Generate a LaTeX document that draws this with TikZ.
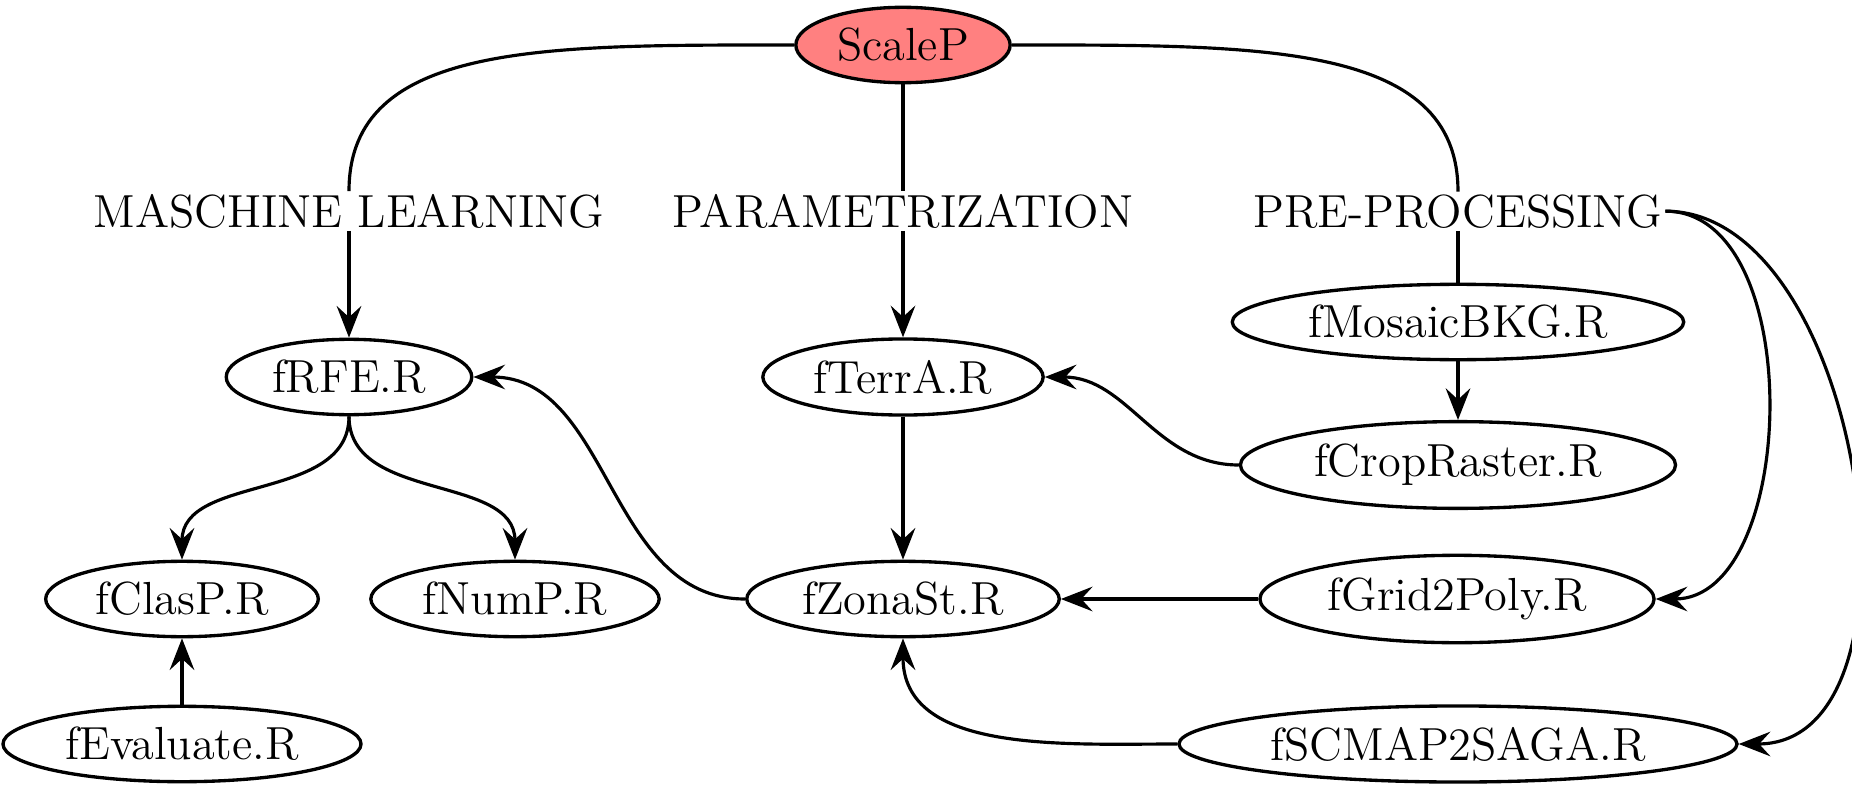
\documentclass[tikz,border=0pt]{standalone}
\usetikzlibrary{arrows.meta,shapes.geometric}
\begin{document}
\begin{tikzpicture}[
  fn/.style={ellipse, draw, line width=0.95pt, inner sep=2.8pt, font=\fontsize{13.2}{15}\selectfont},
  lbl/.style={inner sep=0.6pt, font=\fontsize{13.2}{15}\selectfont},
  conn/.style={line width=0.9pt},
  arr/.style={conn, -{Stealth[length=9pt,width=7pt,inset=3.2pt]}}
]
\useasboundingbox (0,0) rectangle (18.52,-7.91);
% nodes
\node[fn, fill=red!50] (scalep) at (9.03,-0.45) {ScaleP};
\node[lbl, anchor=base] (ml) at (3.49,-2.27) {MASCHINE LEARNING};
\node[lbl, anchor=base] (par) at (9.03,-2.27) {PARAMETRIZATION};
\node[lbl, anchor=base] (pre) at (14.58,-2.27) {PRE-PROCESSING};
\node[fn] (rfe) at (3.49,-3.77) {fRFE.R};
\node[fn] (terra) at (9.03,-3.77) {fTerrA.R};
\node[fn] (mosaic) at (14.58,-3.22) {fMosaicBKG.R};
\node[fn] (crop) at (14.58,-4.65) {fCropRaster.R};
\node[fn] (clasp) at (1.82,-5.99) {fClasP.R};
\node[fn] (nump) at (5.15,-5.99) {fNumP.R};
\node[fn] (zona) at (9.03,-5.99) {fZonaSt.R};
\node[fn] (grid) at (14.57,-5.99) {fGrid2Poly.R};
\node[fn] (eval) at (1.82,-7.44) {fEvaluate.R};
\node[fn] (scmap) at (14.58,-7.44) {fSCMAP2SAGA.R};
% connectors
\draw[conn] (scalep.west) .. controls +(-2.5,0) and +(0,1.49) .. (ml.north);
\draw[arr] (ml.south) -- (rfe.north);
\draw[conn] (scalep.south) -- (par.north);
\draw[arr] (par.south) -- (terra.north);
\draw[conn] (scalep.east) .. controls +(2.5,0) and +(0,1.49) .. (pre.north);
\draw[conn] (pre.south) -- (mosaic.north);
\draw[arr] (mosaic.south) -- (crop.north);
\draw[arr] (pre.east) to[out=0,in=0,looseness=0.94] (grid.east);
\draw[arr] (pre.east) to[out=0,in=0,looseness=0.95] (scmap.east);
\draw[arr] (crop.west) to[out=180,in=0] (terra.east);
\draw[arr] (terra.south) -- (zona.north);
\draw[arr] (grid.west) -- (zona.east);
\draw[arr] (scmap.west) to[out=180,in=-90] (zona.south);
\draw[arr] (zona.west) to[out=180,in=0] (rfe.east);
\draw[arr] (rfe.south) to[out=-90,in=90] (clasp.north);
\draw[arr] (rfe.south) to[out=-90,in=90] (nump.north);
\draw[arr] (eval.north) -- (clasp.south);
\end{tikzpicture}
\end{document}
